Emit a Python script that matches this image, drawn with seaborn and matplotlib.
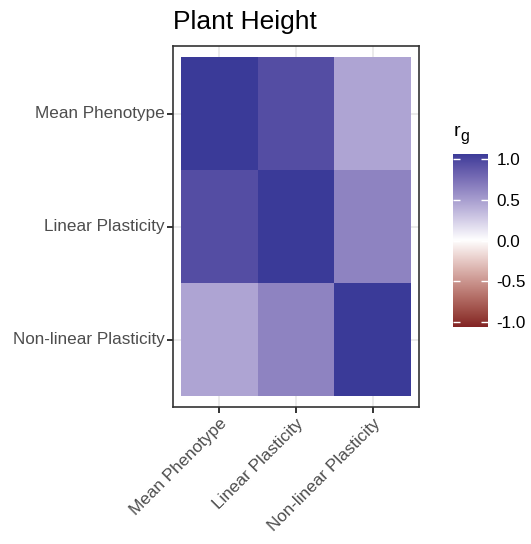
import numpy as np
import pandas as pd
import matplotlib
matplotlib.use("Agg")
import matplotlib.pyplot as plt
from matplotlib.colors import ListedColormap, Normalize
import seaborn as sns

# Genetic correlations between plasticity components for plant height
traits = ["Mean Phenotype", "Linear Plasticity", "Non-linear Plasticity"]
r_mp_lp = 0.89
r_mp_nlp = 0.43
r_lp_nlp = 0.60
corr = np.array([
    [1.0, r_mp_lp, r_mp_nlp],
    [r_mp_lp, 1.0, r_lp_nlp],
    [r_mp_nlp, r_lp_nlp, 1.0],
])
cbar_breaks = [-1.0, -0.5, 0.0, 0.5, 1.0]
cbar_labels = ["-1.0", "-0.5", "0.0", "0.5", "1.0"]
title = "Plant Height"


# Diverging palette interpolated in CIELAB (muted red - white - muted blue)
def srgb_to_lab(rgb):
    rgb = np.asarray(rgb, float)
    lin = np.where(rgb <= 0.04045, rgb / 12.92, ((rgb + 0.055) / 1.055) ** 2.4)
    m = np.array([[0.4124, 0.3576, 0.1805],
                  [0.2126, 0.7152, 0.0722],
                  [0.0193, 0.1192, 0.9505]])
    xyz = m @ lin / np.array([0.95047, 1.0, 1.08883])
    f = np.where(xyz > 0.008856, np.cbrt(xyz), 7.787 * xyz + 16 / 116)
    return np.array([116 * f[1] - 16, 500 * (f[0] - f[1]), 200 * (f[1] - f[2])])


def lab_to_srgb(lab):
    L, a, b = lab
    fy = (L + 16) / 116
    fx = fy + a / 500
    fz = fy - b / 200
    f = np.array([fx, fy, fz])
    xyz = np.where(f ** 3 > 0.008856, f ** 3, (f - 16 / 116) / 7.787)
    xyz = xyz * np.array([0.95047, 1.0, 1.08883])
    minv = np.array([[3.2406, -1.5372, -0.4986],
                     [-0.9689, 1.8758, 0.0415],
                     [0.0557, -0.2040, 1.0570]])
    lin = minv @ xyz
    rgb = np.where(lin <= 0.0031308, 12.92 * lin, 1.055 * np.clip(lin, 0, None) ** (1 / 2.4) - 0.055)
    return np.clip(rgb, 0, 1)


def hex_rgb(h):
    h = h.lstrip("#")
    return np.array([int(h[i:i + 2], 16) / 255 for i in (0, 2, 4)])


low, mid, high = (srgb_to_lab(hex_rgb(c)) for c in ("#832424", "#FFFFFF", "#3A3A98"))
cols = []
for t in np.linspace(0, 1, 512):
    if t < 0.5:
        lab = low + (mid - low) * (t / 0.5)
    else:
        lab = mid + (high - mid) * ((t - 0.5) / 0.5)
    cols.append(lab_to_srgb(lab))
cmap = ListedColormap(cols)
norm = Normalize(vmin=-1, vmax=1)

sns.set_theme(style="white")
plt.rcParams["font.family"] = ["Liberation Sans", "DejaVu Sans"]

W, H = 531, 544
fig = plt.figure(figsize=(W / 100, H / 100), dpi=100)
ax = fig.add_axes([173.3 / W, 1 - 407.3 / H, 245.4 / W, 361.3 / H])

df = pd.DataFrame(corr, index=traits, columns=traits)
sns.heatmap(df, ax=ax, cmap=cmap, vmin=-1, vmax=1, cbar=False, square=False,
            linewidths=0)

m = 0.097
ax.set_xlim(-m, 3 + m)
ax.set_ylim(3 + m, -m)
ax.set_xlabel("")
ax.set_ylabel("")
ax.set_facecolor("white")
ax.set_axisbelow(True)
ax.grid(True, color="#EBEBEB", linewidth=1.4)
for s in ax.spines.values():
    s.set_visible(True)
    s.set_color("#333333")
    s.set_linewidth(1.2)
ax.tick_params(axis="both", which="major", length=4, width=1.4, color="#333333",
               labelsize=12.3, labelcolor="#4D4D4D", pad=2.2,
               bottom=True, left=True)
ax.set_yticklabels(traits, rotation=0)
ax.set_xticklabels(traits, rotation=45, ha="right", va="top", rotation_mode="anchor")

fig.text(173.3 / W, 1 - 29.3 / H, title, fontsize=19, color="black",
         ha="left", va="baseline")

# Colour bar
cax = fig.add_axes([453.3 / W, 1 - 327.3 / H, 34.4 / W, 173.3 / H])
ext = 1.065
grad = np.linspace(-1, 1, 300).reshape(-1, 1)
cax.imshow(grad, cmap=cmap, norm=norm, aspect="auto", origin="lower",
           extent=[0, 1, -ext, ext], interpolation="bilinear")
cax.set_xlim(0, 1)
cax.set_ylim(-ext, ext)
for s in cax.spines.values():
    s.set_visible(False)
cax.set_xticks([])
cax.yaxis.tick_right()
cax.set_yticks(cbar_breaks)
cax.set_yticklabels(cbar_labels)
cax.tick_params(axis="y", length=0, pad=6.5, labelsize=12.3, labelcolor="black",
                right=True, left=False)
cax.hlines(cbar_breaks, 0, 0.2, colors="white", linewidth=1.0)
cax.hlines(cbar_breaks, 0.8, 1, colors="white", linewidth=1.0)

# Legend title: r with subscript g
fig.text(453.5 / W, 1 - 136 / H, "r", fontsize=14, color="black",
         ha="left", va="baseline")
fig.text(460.5 / W, 1 - 141.5 / H, "g", fontsize=11.5, color="black",
         ha="left", va="baseline")

fig.savefig("out.png", dpi=100)
